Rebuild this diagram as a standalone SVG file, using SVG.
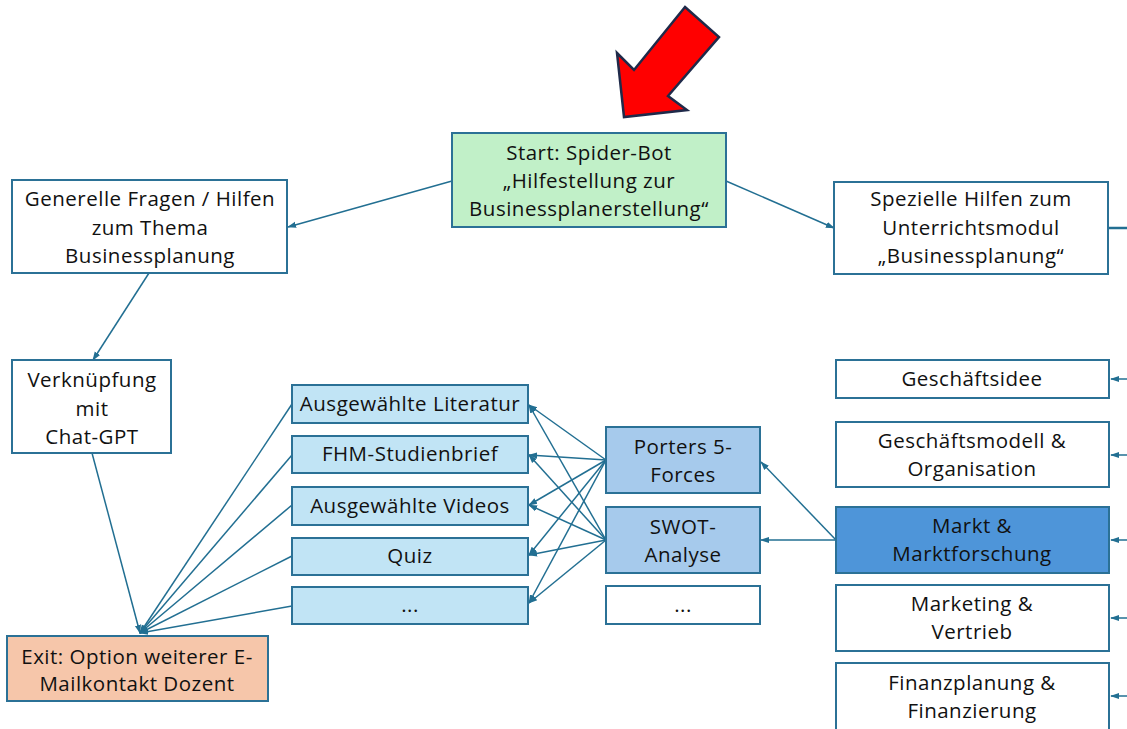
<svg xmlns="http://www.w3.org/2000/svg" width="1127" height="729" viewBox="0 0 1127 729">
  <style>
    .box { stroke: #2b7196; stroke-width: 2; }
    .white { fill: #ffffff; }
    .green { fill: #c1f0c8; }
    .peach { fill: #f6c6aa; }
    .light { fill: #c1e4f5; }
    .mid { fill: #a6caec; }
    .strong { fill: #4e95d9; }
    text { font-family: "Open Sans", "Liberation Sans", sans-serif; font-size: 20.5px; letter-spacing: 0.5px; fill: #111111; text-anchor: middle; }
    .conn line { stroke: #226f92; stroke-width: 1.5; fill: none; }
    .arr { marker-end: url(#head); }
  </style>
  <defs>
    <marker id="head" markerUnits="userSpaceOnUse" markerWidth="9" markerHeight="9" viewBox="0 0 10 10" refX="9" refY="5" orient="auto">
      <path d="M0,1.5 L10,5 L0,8.5 Z" fill="#226f92"/>
    </marker>
  </defs>

  <!-- pointer arrow -->
  <polygon points="685,7 719,37 668,96 687,110 624,117 617,53 634,70" fill="#ff0000" stroke="#1f2a4a" stroke-width="2.5" stroke-linejoin="miter"/>

  <!-- connectors -->
  <g id="connectors" class="conn">
    <line class="arr" x1="452" y1="181" x2="288" y2="227"/>
    <line class="arr" x1="726" y1="181" x2="834" y2="228"/>
    <line x1="1108" y1="228" x2="1127" y2="228" style="stroke-width:2.5"/>
    <line class="arr" x1="149" y1="273" x2="93" y2="360"/>
    <line class="arr" x1="92" y1="453" x2="140" y2="633"/>
    <line class="arr" x1="292" y1="404" x2="140" y2="633"/>
    <line class="arr" x1="292" y1="455" x2="140" y2="633"/>
    <line class="arr" x1="292" y1="505" x2="140" y2="633"/>
    <line class="arr" x1="292" y1="556" x2="140" y2="633"/>
    <line class="arr" x1="292" y1="606" x2="140" y2="633"/>
    <line class="arr" x1="606" y1="460" x2="529" y2="405"/>
    <line class="arr" x1="606" y1="460" x2="529" y2="455"/>
    <line class="arr" x1="606" y1="460" x2="529" y2="505"/>
    <line class="arr" x1="606" y1="460" x2="529" y2="555"/>
    <line class="arr" x1="606" y1="460" x2="529" y2="603"/>
    <line class="arr" x1="606" y1="540" x2="529" y2="405"/>
    <line class="arr" x1="606" y1="540" x2="529" y2="455"/>
    <line class="arr" x1="606" y1="540" x2="529" y2="505"/>
    <line class="arr" x1="606" y1="540" x2="529" y2="555"/>
    <line class="arr" x1="606" y1="540" x2="529" y2="603"/>
    <line class="arr" x1="836" y1="540" x2="761" y2="462"/>
    <line class="arr" x1="836" y1="540" x2="761" y2="540"/>
    <line class="arr" x1="1127" y1="379" x2="1111" y2="379"/>
    <line class="arr" x1="1127" y1="455" x2="1111" y2="455"/>
    <line class="arr" x1="1127" y1="540" x2="1111" y2="540"/>
    <line class="arr" x1="1127" y1="618" x2="1111" y2="618"/>
    <line class="arr" x1="1127" y1="696" x2="1111" y2="696"/>
  </g>

  <g id="start">
    <rect class="box green" x="452" y="133" width="274" height="94"/>
    <text x="589" y="160">Start: Spider-Bot</text>
    <text x="589" y="188">„Hilfestellung zur</text>
    <text x="589" y="216">Businessplanerstellung“</text>
  </g>

  <g id="generelle">
    <rect class="box white" x="12" y="180" width="275" height="93"/>
    <text x="150" y="206">Generelle Fragen / Hilfen</text>
    <text x="150" y="235">zum Thema</text>
    <text x="150" y="263">Businessplanung</text>
  </g>

  <g id="spezielle">
    <rect class="box white" x="834" y="182" width="274" height="92"/>
    <text x="971" y="206">Spezielle Hilfen zum</text>
    <text x="971" y="235">Unterrichtsmodul</text>
    <text x="971" y="263">„Businessplanung“</text>
  </g>

  <g id="chatgpt">
    <rect class="box white" x="12" y="360" width="159" height="93"/>
    <text x="92" y="387">Verknüpfung</text>
    <text x="92" y="416">mit</text>
    <text x="92" y="444">Chat-GPT</text>
  </g>

  <g id="exit">
    <rect class="box peach" x="7" y="636" width="261" height="65"/>
    <text x="137" y="664">Exit: Option weiterer E-</text>
    <text x="137" y="691">Mailkontakt Dozent</text>
  </g>

  <g id="literatur">
    <rect class="box light" x="292" y="385" width="236" height="38"/>
    <text x="410" y="411">Ausgewählte Literatur</text>
  </g>
  <g id="studienbrief">
    <rect class="box light" x="292" y="436" width="236" height="37"/>
    <text x="410" y="461">FHM-Studienbrief</text>
  </g>
  <g id="videos">
    <rect class="box light" x="292" y="487" width="236" height="38"/>
    <text x="410" y="513">Ausgewählte Videos</text>
  </g>
  <g id="quiz">
    <rect class="box light" x="292" y="538" width="236" height="37"/>
    <text x="410" y="563">Quiz</text>
  </g>
  <g id="weitere-medien">
    <rect class="box light" x="292" y="587" width="236" height="37"/>
    <text x="410" y="612">...</text>
  </g>

  <g id="porters">
    <rect class="box mid" x="606" y="427" width="154" height="66"/>
    <text x="683" y="454">Porters 5-</text>
    <text x="683" y="482">Forces</text>
  </g>
  <g id="swot">
    <rect class="box mid" x="606" y="507" width="154" height="66"/>
    <text x="683" y="534">SWOT-</text>
    <text x="683" y="562">Analyse</text>
  </g>
  <g id="weitere-methoden">
    <rect class="box white" x="606" y="586" width="154" height="38"/>
    <text x="683" y="612">...</text>
  </g>

  <g id="geschaeftsidee">
    <rect class="box white" x="836" y="360" width="273" height="38"/>
    <text x="972" y="386">Geschäftsidee</text>
  </g>
  <g id="geschaeftsmodell">
    <rect class="box white" x="836" y="422" width="273" height="65"/>
    <text x="972" y="448">Geschäftsmodell &amp;</text>
    <text x="972" y="476">Organisation</text>
  </g>
  <g id="markt">
    <rect class="box strong" x="836" y="507" width="273" height="66"/>
    <text x="972" y="533">Markt &amp;</text>
    <text x="972" y="561">Marktforschung</text>
  </g>
  <g id="marketing">
    <rect class="box white" x="836" y="585" width="273" height="66"/>
    <text x="972" y="611">Marketing &amp;</text>
    <text x="972" y="639">Vertrieb</text>
  </g>
  <g id="finanzplanung">
    <rect class="box white" x="836" y="663" width="273" height="70"/>
    <text x="972" y="690">Finanzplanung &amp;</text>
    <text x="972" y="718">Finanzierung</text>
  </g>
</svg>
